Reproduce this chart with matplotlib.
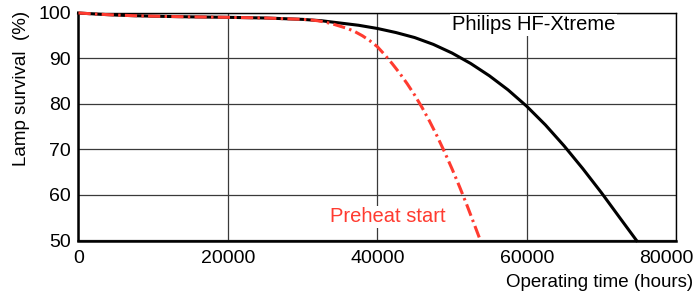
import matplotlib
matplotlib.use('Agg')
import matplotlib.pyplot as plt
import matplotlib.transforms as mtransforms

plt.rcParams['font.family'] = ['Liberation Sans', 'DejaVu Sans']

# operating time (hours) and lamp survival (%)
hf_hours = [0, 2500, 5000, 7500, 10000, 15000, 20000, 25000, 30000, 32500, 35000,
            37500, 40000, 42500, 45000, 47500, 50000, 52500, 55000, 57500, 60000,
            62500, 65000, 67500, 70000, 72500, 74700]
hf_surv = [100, 99.75, 99.55, 99.4, 99.3, 99.15, 99.05, 98.9, 98.6, 98.3, 97.8,
           97.3, 96.6, 95.7, 94.6, 93.1, 91.2, 88.9, 86.2, 83.1, 79.5,
           75.4, 70.8, 65.8, 60.5, 54.9, 50.0]

pre_hours = [0, 2500, 5000, 7500, 10000, 15000, 20000, 25000, 30000, 31000, 32000,
             33000, 34000, 35000, 36000, 37000, 38000, 39000, 40000, 41000, 42000,
             43000, 44000, 45000, 46000, 47000, 48000, 49000, 50000, 51000, 52000,
             53000, 53800]
pre_surv = [100, 99.75, 99.55, 99.4, 99.3, 99.15, 99.05, 98.9, 98.6, 98.5, 98.3,
            98.0, 97.6, 97.1, 96.6, 95.9, 95.0, 93.9, 92.6, 90.8, 88.85,
            86.75, 84.45, 81.95, 79.2, 76.2, 72.95, 69.45, 65.75, 61.85, 57.75,
            53.45, 50.0]

xticks = [0, 20000, 40000, 60000, 80000]
yticks = [50, 60, 70, 80, 90, 100]

fig = plt.figure(figsize=(6.99, 2.96), dpi=100)
ax = fig.add_axes([0.1123, 0.1875, 0.8550, 0.7686])

ax.plot(hf_hours, hf_surv, color='black', lw=2.2, zorder=3, clip_on=False,
        solid_joinstyle='round')
ax.plot(pre_hours, pre_surv, color='#ff3b30', lw=2.2, zorder=4, clip_on=False,
        dashes=(4, 1.4, 0.8, 1.4))

ax.set_xlim(0, 80000)
ax.set_ylim(50, 100)
ax.set_xticks(xticks)
ax.set_yticks(yticks)
ax.tick_params(length=0, labelsize=14)
ax.tick_params(axis='x', pad=6.5)
ax.tick_params(axis='y', pad=5.5)
ax.grid(True, color='#3a3a3a', lw=0.9, zorder=1)
for s in ['left', 'bottom']:
    ax.spines[s].set_linewidth(1.8)
for s in ['top', 'right']:
    ax.spines[s].set_linewidth(1.0)

# last x label sits a bit to the left so it stays inside the figure
last = ax.get_xticklabels()[-1]
last.set_transform(last.get_transform() +
                   mtransforms.ScaledTranslation(-10 / 100, 0, fig.dpi_scale_trans))

fig.text(22 / 699, 1 - 88 / 296, 'Lamp survival  (%)', fontsize=13.5, rotation=90,
         ha='center', va='center')
fig.text(0.9914, 0.044, 'Operating time (hours)', fontsize=13.5, ha='right', va='center')

ax.text(60900, 97.4, 'Philips HF-Xtreme', fontsize=14.5, ha='center', va='center',
        zorder=5, bbox=dict(facecolor='white', edgecolor='none', pad=1))
ax.text(41430, 55.2, 'Preheat start', fontsize=14.5, color='#ff3b30', ha='center',
        va='center', zorder=5, bbox=dict(facecolor='white', edgecolor='none', pad=1))

fig.savefig('out.png', dpi=100)
